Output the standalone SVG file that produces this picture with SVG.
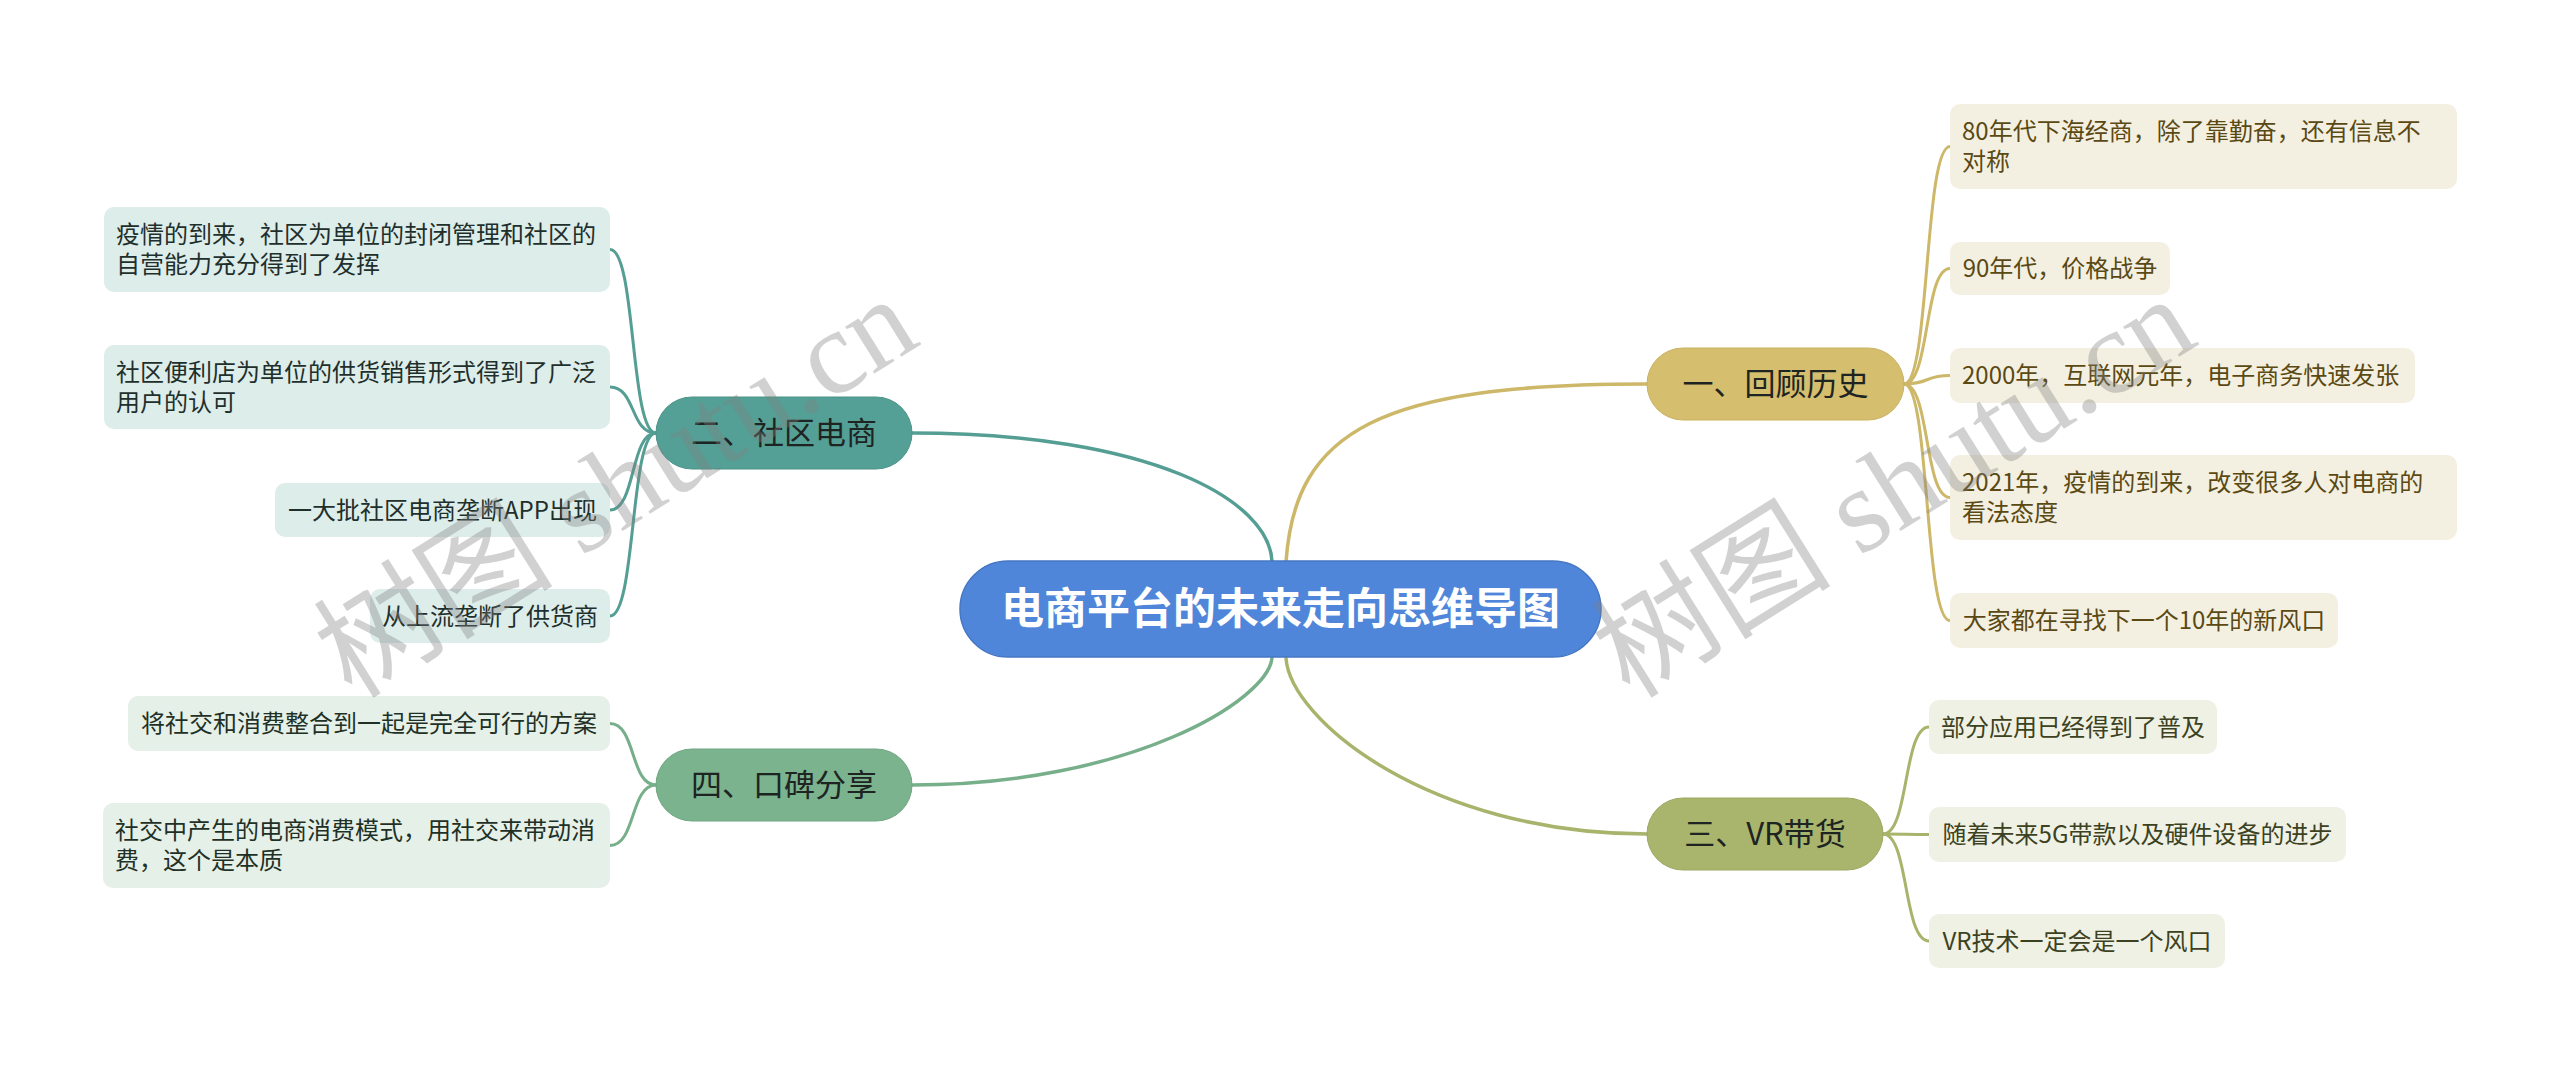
<svg xmlns="http://www.w3.org/2000/svg" width="2560" height="1072" viewBox="0 0 2560 1072">
<style>
text{font-family:"Noto Sans CJK SC","Noto Sans",sans-serif;}
.leaf{font-size:24px;}
.br{font-size:31px;fill:#1e2422;text-anchor:middle;}
.ctr{font-size:43px;font-weight:bold;fill:#ffffff;text-anchor:middle;}
.c{text-anchor:middle;}
.gold .box{fill:#f4f0e1;} .gold text.leaf{fill:#5a4913;}
.olive .box{fill:#eff1e4;} .olive text.leaf{fill:#3c4221;}
.teal .box{fill:#ddedea;} .teal text.leaf{fill:#1f2f2c;}
.green .box{fill:#e5f0e8;} .green text.leaf{fill:#1f3026;}
.ln{fill:none;stroke-width:3;stroke-linecap:round;}
.main{fill:none;stroke-width:3.5;stroke-linecap:round;}
.wm{font-family:"Liberation Serif","Noto Sans CJK SC",serif;font-size:120px;fill:#808080;fill-opacity:0.36;}
</style>
<rect width="2560" height="1072" fill="#ffffff"/>
<g id="connectors">
<path class="main" stroke="#cdb769" d="M1286 562 C1295 430 1380 384 1647 384"/>
<path class="main" stroke="#a8b36c" d="M1286 658 C1290 720 1430 834 1647 834"/>
<path class="main" stroke="#549e93" d="M1272 562 C1270 500 1150 433 912 433"/>
<path class="main" stroke="#77af8a" d="M1272 658 C1268 700 1130 785 912 785"/>
<g stroke="#cdb769" class="ln">
<path class="ln" d="M1904 384 C1930 384 1924 146.5 1950 146.5"/>
<path class="ln" d="M1904 384 C1930 384 1924 268.5 1950 268.5"/>
<path class="ln" d="M1904 384 C1930 384 1924 375.5 1950 375.5"/>
<path class="ln" d="M1904 384 C1930 384 1924 497.5 1950 497.5"/>
<path class="ln" d="M1904 384 C1930 384 1924 620.5 1950 620.5"/>
</g>
<g stroke="#a8b36c" class="ln">
<path class="ln" d="M1883 834 C1909 834 1903 727 1929 727"/>
<path class="ln" d="M1883 834 C1909 834 1903 834.5 1929 834.5"/>
<path class="ln" d="M1883 834 C1909 834 1903 941 1929 941"/>
</g>
<g stroke="#549e93" class="ln">
<path class="ln" d="M656 433 C630 433 636 249.5 610 249.5"/>
<path class="ln" d="M656 433 C630 433 636 387 610 387"/>
<path class="ln" d="M656 433 C630 433 636 510 610 510"/>
<path class="ln" d="M656 433 C630 433 636 616 610 616"/>
</g>
<g stroke="#77af8a" class="ln">
<path class="ln" d="M656 785 C630 785 636 723.5 610 723.5"/>
<path class="ln" d="M656 785 C630 785 636 845.5 610 845.5"/>
</g>
</g>
<g id="center">
<rect x="960" y="561" width="641" height="96" rx="48" fill="#4f86d9" stroke="#4677c4" stroke-width="1.5"/>
<text class="ctr" x="1280.5" y="624">电商平台的未来走向思维导图</text>
</g>
<g id="b1" class="gold">
<rect x="1647" y="348" width="257" height="72" rx="36" fill="#d5be6d" stroke="#c9b160" stroke-width="1"/>
<text class="br" x="1775.5" y="395">一、回顾历史</text>
</g>
<g id="b1-1" class="gold">
<rect class="box" x="1950" y="104" width="507" height="85" rx="10"/>
<text class="leaf" x="1962" y="140">80年代下海经商，除了靠勤奋，还有信息不</text>
<text class="leaf" x="1962" y="170">对称</text>
</g>
<g id="b1-2" class="gold">
<rect class="box" x="1950" y="242" width="220" height="53" rx="10"/>
<text class="leaf c" x="2060" y="277">90年代，价格战争</text>
</g>
<g id="b1-3" class="gold">
<rect class="box" x="1950" y="348" width="465" height="55" rx="10"/>
<text class="leaf" x="1962" y="384">2000年，互联网元年，电子商务快速发张</text>
</g>
<g id="b1-4" class="gold">
<rect class="box" x="1950" y="455" width="507" height="85" rx="10"/>
<text class="leaf" x="1962" y="491">2021年，疫情的到来，改变很多人对电商的</text>
<text class="leaf" x="1962" y="521">看法态度</text>
</g>
<g id="b1-5" class="gold">
<rect class="box" x="1950" y="593" width="388" height="55" rx="10"/>
<text class="leaf c" x="2144" y="629">大家都在寻找下一个10年的新风口</text>
</g>
<g id="b3" class="olive">
<rect x="1647" y="798" width="236" height="72" rx="36" fill="#a9b46d" stroke="#9ca860" stroke-width="1"/>
<text class="br" x="1765" y="845">三、VR带货</text>
</g>
<g id="b3-1" class="olive">
<rect class="box" x="1929" y="700" width="288" height="54" rx="10"/>
<text class="leaf c" x="2073" y="735.5">部分应用已经得到了普及</text>
</g>
<g id="b3-2" class="olive">
<rect class="box" x="1929" y="807" width="417" height="55" rx="10"/>
<text class="leaf c" x="2137.5" y="843">随着未来5G带款以及硬件设备的进步</text>
</g>
<g id="b3-3" class="olive">
<rect class="box" x="1929" y="914" width="296" height="54" rx="10"/>
<text class="leaf c" x="2077" y="949.5">VR技术一定会是一个风口</text>
</g>
<g id="b2" class="teal">
<rect x="656" y="397" width="256" height="72" rx="36" fill="#55a096" stroke="#4b9388" stroke-width="1"/>
<text class="br" x="784" y="444">二、社区电商</text>
</g>
<g id="b2-1" class="teal">
<rect class="box" x="104" y="207" width="506" height="85" rx="10"/>
<text class="leaf" x="116" y="243">疫情的到来，社区为单位的封闭管理和社区的</text>
<text class="leaf" x="116" y="273">自营能力充分得到了发挥</text>
</g>
<g id="b2-2" class="teal">
<rect class="box" x="104" y="345" width="506" height="84" rx="10"/>
<text class="leaf" x="116" y="381">社区便利店为单位的供货销售形式得到了广泛</text>
<text class="leaf" x="116" y="411">用户的认可</text>
</g>
<g id="b2-3" class="teal">
<rect class="box" x="275" y="483" width="335" height="54" rx="10"/>
<text class="leaf c" x="442.5" y="518.5">一大批社区电商垄断APP出现</text>
</g>
<g id="b2-4" class="teal">
<rect class="box" x="370" y="589" width="240" height="54" rx="10"/>
<text class="leaf c" x="490" y="624.5">从上流垄断了供货商</text>
</g>
<g id="b4" class="green">
<rect x="656" y="749" width="256" height="72" rx="36" fill="#7ab38d" stroke="#6ea681" stroke-width="1"/>
<text class="br" x="784" y="796">四、口碑分享</text>
</g>
<g id="b4-1" class="green">
<rect class="box" x="128" y="696" width="482" height="55" rx="10"/>
<text class="leaf c" x="369" y="732">将社交和消费整合到一起是完全可行的方案</text>
</g>
<g id="b4-2" class="green">
<rect class="box" x="103" y="803" width="507" height="85" rx="10"/>
<text class="leaf" x="115" y="839">社交中产生的电商消费模式，用社交来带动消</text>
<text class="leaf" x="115" y="869">费，这个是本质</text>
</g>
<g id="watermarks">
<text class="wm" transform="translate(352 700) rotate(-32)">树图 shutu.cn</text>
<text class="wm" transform="translate(1630 700) rotate(-32)">树图 shutu.cn</text>
</g>
</svg>
